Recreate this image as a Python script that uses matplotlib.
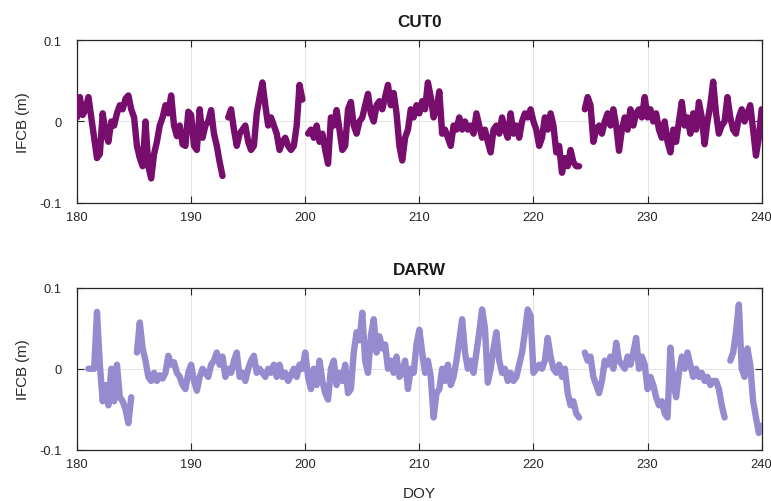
import numpy as np
import matplotlib.pyplot as plt

plt.rcParams['font.family'] = ['Liberation Sans', 'DejaVu Sans']

# IFCB series, one value every 0.25 day from DOY 180 to 240 (mm)
day_start, day_step = 180.0, 0.25

cut0_mm = [
    5, 30, 8, 15,        # 180
    30, 5, -20, -45,     # 181
    -40, 10, -15, -25,   # 182
    0, -5, 10, 20,       # 183
    15, 28, 32, 15,      # 184
    5, -30, -45, -55,    # 185
    0, -55, -70, -40,    # 186
    -25, -5, 5, 20,      # 187
    10, 32, -5, -18,     # 188
    -5, -28, -30, 12,    # 189
    8, -30, -35, 15,     # 190
    -20, -5, 0, 14,      # 191
    -15, -30, -50, -67,  # 192
    np.nan, 5, 15, -10,  # 193
    -30, -15, -10, -5,   # 194
    -25, -35, -30, 10,   # 195
    30, 48, 20, -5,      # 196
    5, -5, -15, -35,     # 197
    -25, -20, -30, -35,  # 198
    -30, -5, 45, 27,     # 199
    np.nan, -15, -10, -20,  # 200
    -5, -25, -15, -35,   # 201
    -52, 5, -5, 14,      # 202
    -10, -35, -30, 15,   # 203
    24, -5, -15, 0,      # 204
    5, 20, 34, 10,       # 205
    0, 20, 25, 15,       # 206
    30, 45, 20, 35,      # 207
    10, -30, -48, -20,   # 208
    -10, 15, 5, 20,      # 209
    10, 25, 15, 48,      # 210
    30, 5, 15, 37,       # 211
    -15, -10, -20, -30,  # 212
    -5, -10, 5, -10,     # 213
    0, -10, -5, -15,     # 214
    10, -5, -20, -10,    # 215
    -25, -38, -10, -5,   # 216
    -15, 5, -10, -20,    # 217
    10, -15, -5, -20,    # 218
    0, 10, 5, 15,        # 219
    0, -10, -30, -20,    # 220
    5, -10, 10, -5,      # 221
    -38, -30, -63, -45,  # 222
    -55, -35, -50, -55,  # 223
    -55, np.nan, 15, 30,  # 224
    20, -25, -10, -5,    # 225
    -15, 0, 10, -5,      # 226
    15, -5, -36, -10,    # 227
    5, -10, 15, -5,      # 228
    10, 15, 5, 30,       # 229
    5, 15, 0, 10,        # 230
    -10, -20, 0, -25,    # 231
    -38, -10, -25, 0,    # 232
    24, -5, 5, -15,      # 233
    10, -10, 24, 5,      # 234
    -28, 0, 20, 49,      # 235
    10, -15, -5, 0,      # 236
    30, 5, -10, -15,     # 237
    5, 15, 0, 10,        # 238
    20, -10, -42, -20,   # 239
    15,                  # 240
]

darw_mm = [
    np.nan, np.nan, np.nan, np.nan,  # 180
    0, 0, 0, 70,         # 181
    5, -40, -20, -45,    # 182
    0, -40, 5, -35,      # 183
    -40, -50, -67, -35,  # 184
    np.nan, 20, 57, 25,  # 185
    10, -10, -15, -5,    # 186
    -15, -8, -12, -5,    # 187
    16, 5, 8, -5,        # 188
    -10, -20, -25, -5,   # 189
    5, -15, -27, -10,    # 190
    0, -5, -10, 5,       # 191
    10, 20, 5, 15,       # 192
    -10, 0, -5, 10,      # 193
    20, -10, -5, -15,    # 194
    0, 10, 16, -5,       # 195
    0, -5, -10, 0,       # 196
    -5, 5, -10, 5,       # 197
    -10, -5, -15, -8,    # 198
    0, -10, 5, 0,        # 199
    20, -10, -25, 0,     # 200
    -20, 10, -15, -30,   # 201
    -38, 0, 10, -20,     # 202
    -5, -15, 5, -30,     # 203
    -25, 20, 45, 35,     # 204
    69, 10, -5, 40,      # 205
    61, 20, 40, 25,      # 206
    30, 0, 10, -5,       # 207
    15, -10, -5, 10,     # 208
    -25, 0, -5, 30,      # 209
    48, 20, -5, 10,      # 210
    -10, -60, -30, -25,  # 211
    0, -15, 5, -20,      # 212
    -10, 10, 35, 61,     # 213
    20, 0, 10, -5,       # 214
    20, 45, 73, 50,      # 215
    -17, 0, 25, 45,      # 216
    10, -5, 0, -15,      # 217
    -5, -15, -10, 5,     # 218
    20, 45, 73, 65,      # 219
    -5, 0, 5, 0,         # 220
    10, 38, 15, 0,       # 221
    -5, 5, -10, 0,       # 222
    -30, -45, -40, -55,  # 223
    -60, np.nan, 20, 10,  # 224
    15, -10, -20, -30,   # 225
    -15, 10, 5, 15,      # 226
    0, 32, 10, 5,        # 227
    0, 15, 5, 20,        # 228
    38, 0, 15, 5,        # 229
    -25, -10, -20, -35,  # 230
    -45, -40, -55, -60,  # 231
    26, -15, -35, -5,    # 232
    15, 0, 20, 5,        # 233
    -10, 0, -10, -5,     # 234
    -15, -10, -20, -15,  # 235
    -15, -25, -45, -60,  # 236
    np.nan, 10, 20, 45,  # 237
    79, 0, -10, 25,      # 238
    5, -40, -60, -79,    # 239
    -70,                 # 240
]

stations = ["CUT0", "DARW"]
colors = ["#770d6d", "#968bcf"]
series = [cut0_mm, darw_mm]

doy = day_start + day_step * np.arange(len(cut0_mm))

fig = plt.figure(figsize=(7.71, 5.02), dpi=100)
ax_top = fig.add_axes([0.0999, 0.594, 0.888, 0.324])
ax_bot = fig.add_axes([0.0999, 0.1016, 0.888, 0.3236])

for ax, name, col, vals in zip([ax_top, ax_bot], stations, colors, series):
    ax.plot(doy, np.array(vals, dtype=float) / 1000.0, color=col, lw=4.6,
            solid_capstyle='round', solid_joinstyle='round', zorder=3)
    ax.set_xlim(180, 240)
    ax.set_ylim(-0.1, 0.1)
    ax.set_xticks(np.arange(180, 241, 10))
    ax.set_yticks([-0.1, 0, 0.1])
    ax.set_yticklabels(["-0.1", "0", "0.1"])
    ax.grid(True, color="#e6e6e6", lw=0.8, zorder=0)
    ax.tick_params(direction='in', length=5, width=0.8, top=True, right=True,
                   labelsize=9.3, colors='#262626')
    ax.tick_params(axis='y', pad=11)
    ax.tick_params(axis='x', pad=6)
    for sp in ax.spines.values():
        sp.set_linewidth(0.9)
        sp.set_color('#262626')
    ax.set_title(name, fontsize=12.3, fontweight='bold', pad=10, color='#1a1a1a')
    ax.set_ylabel("IFCB (m)", fontsize=10.8, color='#262626', labelpad=7)

ax_bot.set_xlabel("DOY", fontsize=11, color='#262626', labelpad=11)

fig.savefig("out.png", dpi=100)
